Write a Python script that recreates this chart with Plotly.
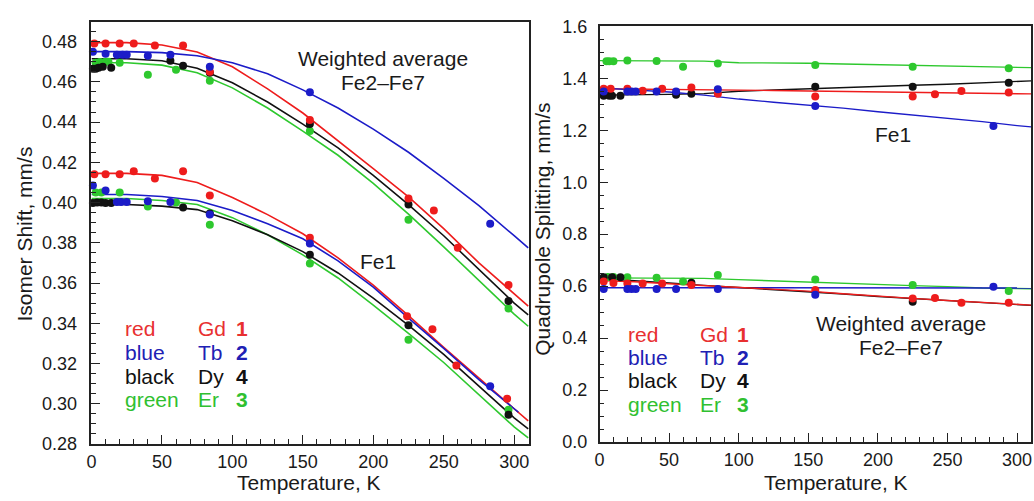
import plotly.graph_objects as go

# ---------------- colours ----------------
RED = "#ee1c1c"
BLUE = "#1c1cc8"
BLACK = "#111111"
GREEN = "#2ec82e"

# ---------------- left panel: isomer shift ----------------
# fitted curves
T_fit = [0, 25, 50, 75, 100, 125, 150, 175, 200, 225, 250, 275, 300, 310]
T_fit_blue_fe1 = [0, 25, 50, 75, 100, 125, 150, 175, 200, 225, 250, 275, 300, 303]

is_avg_red_fit = [0.4795, 0.4795, 0.4783, 0.4748, 0.4675, 0.4565, 0.4445, 0.4308, 0.4168, 0.4028, 0.3870, 0.3700, 0.3546, 0.3485]
is_avg_blue_fit = [0.4750, 0.4750, 0.4745, 0.4730, 0.4695, 0.4640, 0.4560, 0.4470, 0.4365, 0.4250, 0.4120, 0.3985, 0.3835, 0.3775]
is_avg_black_fit = [0.4715, 0.4715, 0.4705, 0.4668, 0.4595, 0.4500, 0.4390, 0.4272, 0.4135, 0.3990, 0.3835, 0.3670, 0.3500, 0.3442]
is_avg_green_fit = [0.4695, 0.4695, 0.4683, 0.4645, 0.4570, 0.4470, 0.4355, 0.4235, 0.4095, 0.3942, 0.3780, 0.3610, 0.3445, 0.3385]

is_fe1_red_fit = [0.4145, 0.4145, 0.4135, 0.4100, 0.4025, 0.3940, 0.3845, 0.3725, 0.3590, 0.3438, 0.3280, 0.3125, 0.2975, 0.2915]
is_fe1_blue_fit = [0.4040, 0.4040, 0.4030, 0.4010, 0.3960, 0.3895, 0.3820, 0.3710, 0.3580, 0.3425, 0.3275, 0.3120, 0.2975, 0.2958]
is_fe1_black_fit = [0.3990, 0.3990, 0.3982, 0.3965, 0.3910, 0.3840, 0.3756, 0.3650, 0.3525, 0.3390, 0.3245, 0.3085, 0.2930, 0.2875]
is_fe1_green_fit = [0.4020, 0.4020, 0.4010, 0.3990, 0.3925, 0.3840, 0.3740, 0.3625, 0.3490, 0.3350, 0.3205, 0.3045, 0.2885, 0.2830]

# measured points: weighted average Fe2-Fe7
is_avg_red_T = [2, 10, 20, 30, 45, 65, 84, 155, 225, 243, 260, 296]
is_avg_red = [0.479, 0.479, 0.479, 0.479, 0.478, 0.478, 0.465, 0.441, 0.402, 0.396, 0.3775, 0.359]
is_avg_blue_T = [1, 10, 18, 22, 25, 40, 56, 84, 155, 283]
is_avg_blue = [0.475, 0.474, 0.4735, 0.4735, 0.4735, 0.473, 0.4735, 0.4675, 0.4548, 0.3895]
is_avg_black_T = [1, 3, 5, 8, 14, 56, 65, 84, 155, 225, 296]
is_avg_black = [0.4665, 0.4665, 0.467, 0.4675, 0.467, 0.4705, 0.468, 0.4645, 0.439, 0.399, 0.351]
is_avg_green_T = [3, 6, 10, 12, 20, 40, 60, 84, 155, 225, 296]
is_avg_green = [0.4695, 0.4698, 0.470, 0.470, 0.4695, 0.4635, 0.466, 0.4605, 0.4355, 0.3915, 0.3473]

# measured points: Fe1
is_fe1_red_T = [2, 10, 20, 30, 45, 65, 84, 155, 224, 242, 259, 295]
is_fe1_red = [0.414, 0.414, 0.414, 0.4155, 0.412, 0.4155, 0.4035, 0.3825, 0.3435, 0.337, 0.319, 0.3025]
is_fe1_blue_T = [1, 10, 18, 21, 25, 40, 56, 84, 155, 283]
is_fe1_blue = [0.4085, 0.406, 0.4003, 0.4003, 0.4003, 0.4006, 0.4003, 0.394, 0.3797, 0.3087]
is_fe1_black_T = [1, 4, 7, 10, 14, 65, 84, 155, 225, 296]
is_fe1_black = [0.3998, 0.400, 0.400, 0.3998, 0.3998, 0.3975, 0.3945, 0.374, 0.339, 0.2945]
is_fe1_green_T = [3, 7, 20, 40, 60, 84, 155, 225, 296]
is_fe1_green = [0.405, 0.405, 0.405, 0.398, 0.400, 0.389, 0.3697, 0.3318, 0.297]

# ---------------- right panel: quadrupole splitting ----------------
qs_fe1_green_fit = [1.468, 1.468, 1.468, 1.466, 1.460, 1.460, 1.458, 1.455, 1.452, 1.449, 1.446, 1.443, 1.442, 1.441]
qs_fe1_red_fit = [1.360, 1.359, 1.358, 1.357, 1.355, 1.353, 1.351, 1.349, 1.347, 1.345, 1.343, 1.342, 1.341, 1.340]
qs_fe1_blue_fit = [1.363, 1.354, 1.347, 1.335, 1.320, 1.308, 1.297, 1.285, 1.271, 1.259, 1.246, 1.233, 1.218, 1.213]
qs_fe1_black_fit = [1.335, 1.336, 1.338, 1.341, 1.350, 1.355, 1.360, 1.364, 1.369, 1.373, 1.377, 1.382, 1.387, 1.390]

qs_avg_green_fit = [0.632, 0.632, 0.631, 0.630, 0.625, 0.620, 0.617, 0.612, 0.606, 0.602, 0.598, 0.593, 0.591, 0.590]
qs_avg_blue_fit = [0.594, 0.594, 0.594, 0.594, 0.594, 0.594, 0.594, 0.594, 0.594, 0.594, 0.594, 0.593, 0.593, 0.593]
qs_avg_red_fit = [0.622, 0.617, 0.609, 0.602, 0.596, 0.589, 0.581, 0.571, 0.561, 0.553, 0.545, 0.538, 0.531, 0.527]
qs_avg_black_fit = [0.630, 0.622, 0.612, 0.603, 0.595, 0.588, 0.580, 0.570, 0.560, 0.552, 0.544, 0.537, 0.530, 0.526]

qs_fe1_green_T = [5, 7, 10, 20, 41, 60, 85, 155, 225, 294]
qs_fe1_green = [1.466, 1.466, 1.466, 1.468, 1.467, 1.444, 1.457, 1.451, 1.444, 1.439]
qs_fe1_red_T = [3, 8, 20, 31, 45, 66, 85, 155, 225, 241, 260, 294]
qs_fe1_red = [1.360, 1.360, 1.360, 1.352, 1.360, 1.365, 1.340, 1.330, 1.330, 1.339, 1.351, 1.345]
qs_fe1_blue_T = [3, 20, 23, 26, 41, 55, 85, 155, 283]
qs_fe1_blue = [1.349, 1.349, 1.349, 1.349, 1.349, 1.349, 1.358, 1.293, 1.216]
qs_fe1_black_T = [3, 7, 9, 15, 55, 66, 155, 225, 294]
qs_fe1_black = [1.333, 1.333, 1.333, 1.333, 1.337, 1.340, 1.367, 1.367, 1.383]

qs_avg_green_T = [6, 10, 20, 41, 60, 85, 155, 225, 294]
qs_avg_green = [0.635, 0.635, 0.634, 0.632, 0.618, 0.643, 0.626, 0.604, 0.581]
qs_avg_red_T = [3, 10, 20, 31, 45, 66, 155, 225, 241, 260, 294]
qs_avg_red = [0.618, 0.612, 0.610, 0.610, 0.610, 0.604, 0.585, 0.552, 0.554, 0.536, 0.536]
qs_avg_blue_T = [3, 20, 23, 26, 41, 55, 85, 155, 283]
qs_avg_blue = [0.589, 0.589, 0.589, 0.589, 0.589, 0.589, 0.589, 0.567, 0.5975]
qs_avg_black_T = [3, 9, 15, 66, 225]
qs_avg_black = [0.634, 0.634, 0.634, 0.6135, 0.540]

# legend text rows
legend_names = ["red", "blue", "black", "green"]
legend_elements = ["Gd", "Tb", "Dy", "Er"]
legend_numbers = ["1", "2", "4", "3"]
legend_colors = ["#e83030", "#2020b4", "#111111", "#30c030"]

FONT = "Liberation Sans, Arial, sans-serif"

fig = go.Figure()


def add_line(x, y, color, xa, ya, width=1.6):
    fig.add_trace(go.Scatter(x=x, y=y, mode="lines", line=dict(color=color, width=width),
                             xaxis=xa, yaxis=ya, showlegend=False, hoverinfo="skip"))


def add_pts(x, y, color, xa, ya):
    fig.add_trace(go.Scatter(x=x, y=y, mode="markers", marker=dict(color=color, size=8),
                             xaxis=xa, yaxis=ya, showlegend=False, cliponaxis=False))


# left panel lines
for ys, c in [(is_avg_green_fit, GREEN), (is_avg_black_fit, BLACK), (is_avg_red_fit, RED), (is_avg_blue_fit, BLUE),
              (is_fe1_green_fit, GREEN), (is_fe1_black_fit, BLACK), (is_fe1_red_fit, RED)]:
    add_line(T_fit, ys, c, "x", "y")
add_line(T_fit_blue_fe1, is_fe1_blue_fit, BLUE, "x", "y")

for xs, ys, c in [(is_avg_green_T, is_avg_green, GREEN), (is_avg_black_T, is_avg_black, BLACK),
                  (is_avg_red_T, is_avg_red, RED), (is_avg_blue_T, is_avg_blue, BLUE),
                  (is_fe1_green_T, is_fe1_green, GREEN), (is_fe1_black_T, is_fe1_black, BLACK),
                  (is_fe1_red_T, is_fe1_red, RED), (is_fe1_blue_T, is_fe1_blue, BLUE)]:
    add_pts(xs, ys, c, "x", "y")

# right panel lines
for ys, c in [(qs_fe1_green_fit, GREEN), (qs_fe1_black_fit, BLACK), (qs_fe1_red_fit, RED), (qs_fe1_blue_fit, BLUE),
              (qs_avg_green_fit, GREEN), (qs_avg_blue_fit, BLUE), (qs_avg_black_fit, BLACK), (qs_avg_red_fit, RED)]:
    add_line(T_fit, ys, c, "x2", "y2", width=1.4)

for xs, ys, c in [(qs_fe1_green_T, qs_fe1_green, GREEN), (qs_fe1_black_T, qs_fe1_black, BLACK),
                  (qs_fe1_red_T, qs_fe1_red, RED), (qs_fe1_blue_T, qs_fe1_blue, BLUE),
                  (qs_avg_green_T, qs_avg_green, GREEN), (qs_avg_black_T, qs_avg_black, BLACK),
                  (qs_avg_red_T, qs_avg_red, RED), (qs_avg_blue_T, qs_avg_blue, BLUE)]:
    add_pts(xs, ys, c, "x2", "y2")

ann = []


def text(x, y, s, xref, yref, color="#1a1a1a", size=21, xanchor="center", bold=False):
    ann.append(dict(x=x, y=y, xref=xref, yref=yref, text=("<b>%s</b>" % s) if bold else s,
                    showarrow=False, xanchor=xanchor, yanchor="middle",
                    font=dict(family=FONT, size=size, color=color)))


# panel annotations
text(206.7, 0.4715, "Weighted average", "x", "y")
text(206.7, 0.4595, "Fe2–Fe7", "x", "y")
text(203.7, 0.3707, "Fe1", "x", "y")
text(210.7, 1.183, "Fe1", "x2", "y2")
text(216.4, 0.456, "Weighted average", "x2", "y2")
text(216.4, 0.363, "Fe2–Fe7", "x2", "y2")

# legends
left_rows = [0.3375, 0.3256, 0.3136, 0.3022]
right_rows = [0.415, 0.327, 0.238, 0.146]
for i in range(4):
    c = legend_colors[i]
    text(22.5, left_rows[i], legend_names[i], "x", "y", color=c, xanchor="left")
    text(74.5, left_rows[i], legend_elements[i], "x", "y", color=c, xanchor="left")
    text(112.5, left_rows[i], legend_numbers[i], "x", "y", color=c, xanchor="right", bold=True)
    text(19.0, right_rows[i], legend_names[i], "x2", "y2", color=c, xanchor="left")
    text(70.5, right_rows[i], legend_elements[i], "x2", "y2", color=c, xanchor="left")
    text(109.0, right_rows[i], legend_numbers[i], "x2", "y2", color=c, xanchor="right", bold=True)

# axis titles as paper annotations
W, H = 1034, 501
ann.append(dict(x=306 / W, y=1 - 492 / H, xref="paper", yref="paper", text="Temperature, K", showarrow=False,
                xanchor="center", yanchor="middle", font=dict(family=FONT, size=21, color="#1a1a1a")))
ann.append(dict(x=836 / W, y=1 - 492 / H, xref="paper", yref="paper", text="Temperature, K", showarrow=False,
                xanchor="center", yanchor="middle", font=dict(family=FONT, size=21, color="#1a1a1a")))
ann.append(dict(x=20 / W, y=1 - 233 / H, xref="paper", yref="paper", text="Isomer Shift, mm/s", showarrow=False,
                textangle=-90, xanchor="center", yanchor="middle", font=dict(family=FONT, size=21, color="#1a1a1a")))
ann.append(dict(x=541 / W, y=1 - 228 / H, xref="paper", yref="paper", text="Quadrupole Splitting, mm/s",
                showarrow=False, textangle=-90, xanchor="center", yanchor="middle",
                font=dict(family=FONT, size=21, color="#1a1a1a")))

axis_common = dict(showline=True, linecolor="#222222", linewidth=1.5, mirror=True, showgrid=False, zeroline=False,
                   ticks="inside", ticklen=9, tickwidth=1.3, tickcolor="#222222",
                   tickfont=dict(family=FONT, size=18, color="#1a1a1a"))

fig.update_layout(
    width=W, height=H, margin=dict(l=0, r=0, t=0, b=0),
    paper_bgcolor="white", plot_bgcolor="white",
    annotations=ann,
    xaxis=dict(domain=[87 / W, 527 / W], range=[0, 310.5], tick0=0, dtick=50, ticklabelstandoff=1,
               minor=dict(dtick=10, ticks="inside", ticklen=5, tickcolor="#222222"), anchor="y", **axis_common),
    yaxis=dict(domain=[1 - 452 / H, 1 - 13 / H], range=[0.28, 0.4895], tick0=0.28, dtick=0.02, tickformat=".2f",
               ticklabelstandoff=9,
               minor=dict(dtick=0.005, ticks="inside", ticklen=5, tickcolor="#222222"), anchor="x", **axis_common),
    xaxis2=dict(domain=[598 / W, 1032 / W], range=[0, 310], tick0=0, dtick=50, ticklabelstandoff=1,
                minor=dict(dtick=10, ticks="inside", ticklen=5, tickcolor="#222222"), anchor="y2", **axis_common),
    yaxis2=dict(domain=[1 - 450 / H, 1 - 17 / H], range=[0, 1.6], tick0=0, dtick=0.2, tickformat=".1f",
                ticklabelstandoff=7,
                minor=dict(dtick=0.05, ticks="inside", ticklen=5, tickcolor="#222222"), anchor="x2", **axis_common),
)

fig.write_html("out.html", config={"displayModeBar": False},
               post_script="document.body.style.margin='0';document.body.style.overflow='hidden';")
